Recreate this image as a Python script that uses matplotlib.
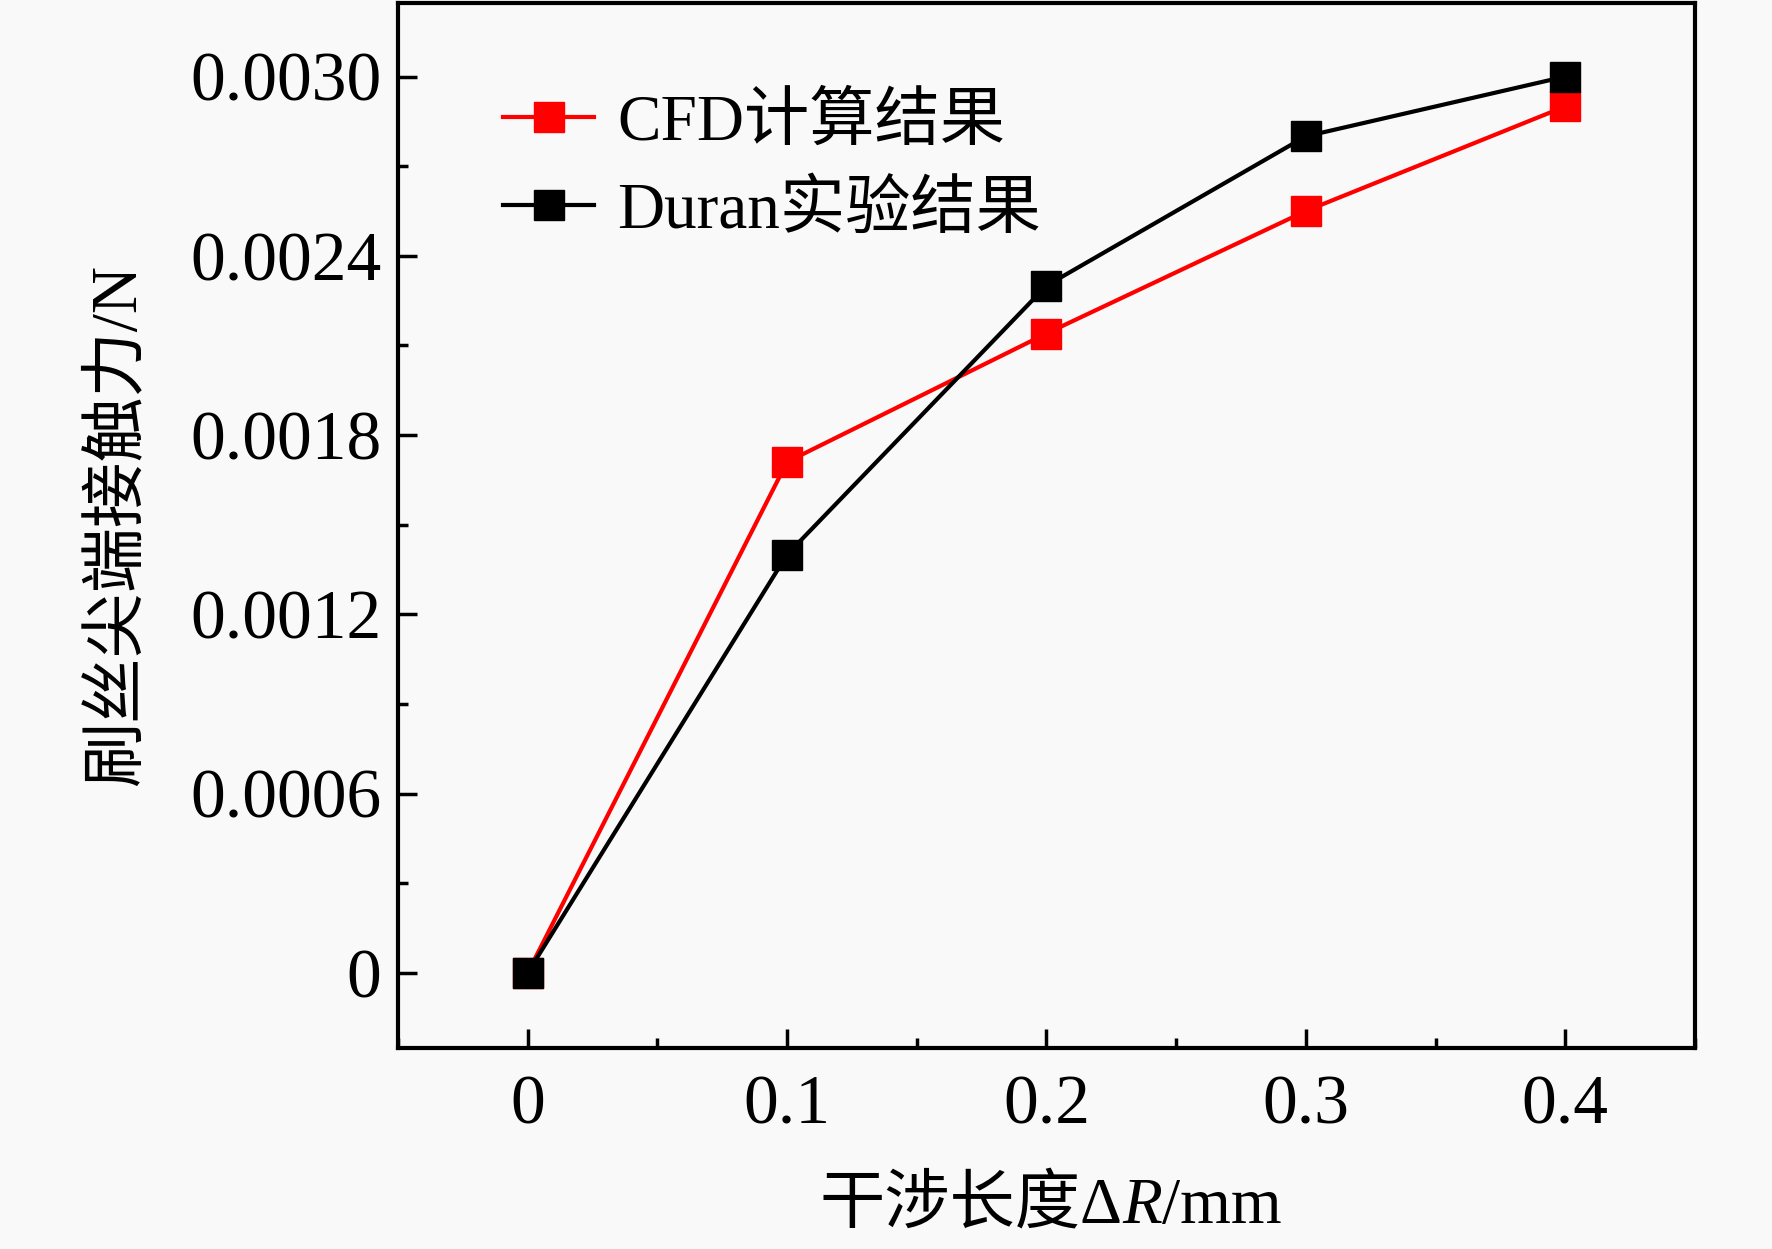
import matplotlib
matplotlib.use('Agg')
import matplotlib.pyplot as plt
from matplotlib.ticker import MultipleLocator, FixedLocator
from matplotlib.offsetbox import TextArea, HPacker, AnchoredOffsetbox

# Data
x_dr = [0, 0.1, 0.2, 0.3, 0.4]
cfd_force = [0.0, 0.00171, 0.00214, 0.00255, 0.00290]
duran_force = [0.0, 0.00140, 0.00230, 0.00280, 0.00300]
cfd_label = 'CFD计算结果'
duran_label = 'Duran实验结果'
y_ticks = [0, 0.0006, 0.0012, 0.0018, 0.0024, 0.0030]
y_ticklabels = ['0', '0.0006', '0.0012', '0.0018', '0.0024', '0.0030']
x_ticks = [0, 0.1, 0.2, 0.3, 0.4]
x_ticklabels = ['0', '0.1', '0.2', '0.3', '0.4']

fonts = ['Liberation Serif', 'Noto Sans CJK SC', 'DejaVu Sans']
plt.rcParams['font.family'] = fonts

bg = '#f9f9f9'
fig = plt.figure(figsize=(17.72, 12.49), dpi=100, facecolor=bg)
ax = fig.add_axes([0.2246, 0.1613, 0.7319, 0.836])
ax.set_facecolor(bg)

ax.plot(x_dr, cfd_force, color='#ff0000', lw=3, marker='s', ms=21,
        mfc='#ff0000', mec='#ff0000', label=cfd_label, zorder=3)
ax.plot(x_dr, duran_force, color='black', lw=3, marker='s', ms=21,
        mfc='black', mec='black', label=duran_label, zorder=4)

ax.set_xlim(-0.05, 0.45)
ax.set_ylim(-0.00025, 0.003245)

ax.xaxis.set_major_locator(FixedLocator(x_ticks))
ax.set_xticklabels(x_ticklabels)
ax.xaxis.set_minor_locator(MultipleLocator(0.05))
ax.yaxis.set_major_locator(FixedLocator(y_ticks))
ax.set_yticklabels(y_ticklabels)
ax.yaxis.set_minor_locator(MultipleLocator(0.0003))

ax.tick_params(which='major', direction='in', length=14, width=2.5,
               labelsize=50, pad=12)
ax.tick_params(which='minor', direction='in', length=7, width=2.5)
ax.tick_params(axis='x', pad=20)
for s in ax.spines.values():
    s.set_linewidth(3)

ax.set_ylabel('刷丝尖端接触力/N', fontsize=47, labelpad=30)

# x label with italic R
parts = [TextArea('干涉长度Δ', textprops=dict(fontsize=47, family=fonts)),
         TextArea('R', textprops=dict(fontsize=47, family=fonts, style='italic')),
         TextArea('/mm', textprops=dict(fontsize=47, family=fonts))]
box = HPacker(children=parts, align='baseline', pad=0, sep=0)
anchored = AnchoredOffsetbox(loc='center', child=box, frameon=False,
                             bbox_to_anchor=(0.503, -0.152),
                             bbox_transform=ax.transAxes, borderpad=0)
ax.add_artist(anchored)

leg = ax.legend(loc='upper left', bbox_to_anchor=(0.081, 0.914), frameon=False,
                fontsize=47, handlelength=1.4, handletextpad=0.35,
                labelspacing=0.42, borderpad=0, borderaxespad=0)

fig.savefig('out.png', dpi=100, facecolor=bg)
